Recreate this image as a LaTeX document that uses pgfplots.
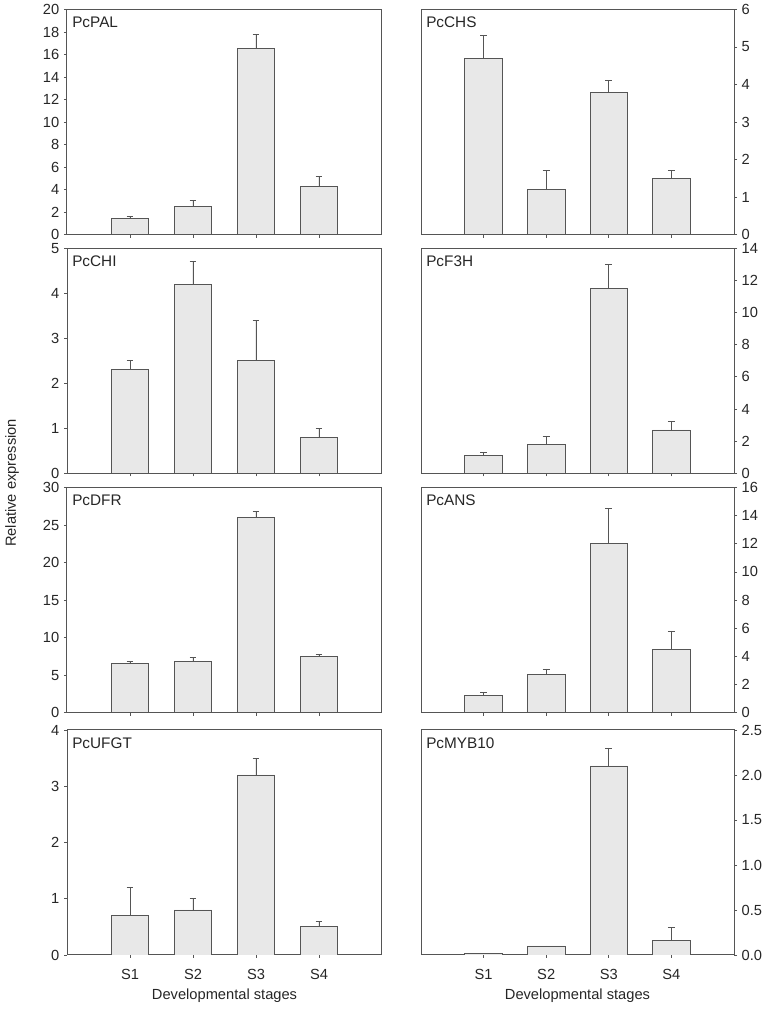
\documentclass[border=0pt]{standalone}
\usepackage{fontspec}
\setmainfont{Liberation Sans}
\usepackage{pgfplots}
\pgfplotsset{compat=1.18}
\definecolor{barfill}{HTML}{E8E8E8}
\definecolor{axgray}{HTML}{555555}
\definecolor{txt}{HTML}{262626}

\pgfplotsset{
  panel/.style={
    scale only axis, height=168.75pt, anchor=south west,
    xmin=0, xmax=5, ymin=0,
    xtick={1,2,3,4}, xticklabels={},
    xtick pos=bottom, tick align=outside, major tick length=2.25pt,
    axis line style={axgray, line width=0.75pt},
    tick style={axgray, line width=0.6pt},
    every tick label/.append style={font=\fontsize{11}{13}\selectfont, text=txt},
    /pgf/number format/assume math mode=true,
    ybar, bar width=0.6,
  },
  barstyle/.style={
      draw=axgray, fill=barfill, line width=0.6pt,
      error bars/y dir=plus, error bars/y explicit,
      error bars/error bar style={axgray, line width=0.6pt},
      error bars/error mark options={rotate=90, mark size=2.6pt, axgray, line width=0.6pt},
  },
  leftpanel/.style={panel, width=236.25pt, ytick pos=left},
  rightpanel/.style={panel, width=234.75pt, ytick pos=right, yticklabel pos=right},
  bottomrow/.style={xticklabels={S1,S2,S3,S4}, xticklabel style={yshift=-5pt}},
}
\newcommand{\ptitle}[1]{\node[anchor=north west, inner sep=0pt, font=\fontsize{11.5}{13}\selectfont, text=txt] at ([xshift=3.75pt,yshift=-5.5pt]rel axis cs:0,1) {#1};}

\begin{document}
\begin{tikzpicture}
\path[use as bounding box] (0,0) rectangle (576pt,760.5pt);

% Row 1
\begin{axis}[leftpanel, at={(50.25pt,584.6pt)}, ymax=20, ytick distance=2]
\addplot[barstyle] coordinates {(1,1.4) +- (0,0.2) (2,2.5) +- (0,0.5) (3,16.5) +- (0,1.3) (4,4.3) +- (0,0.9)};
\ptitle{PcPAL}
\end{axis}
\begin{axis}[rightpanel, at={(315.75pt,584.6pt)}, ymax=6, ytick distance=1]
\addplot[barstyle] coordinates {(1,4.7) +- (0,0.6) (2,1.2) +- (0,0.5) (3,3.8) +- (0,0.3) (4,1.5) +- (0,0.2)};
\ptitle{PcCHS}
\end{axis}

% Row 2
\begin{axis}[leftpanel, at={(50.25pt,405.5pt)}, ymax=5, ytick distance=1]
\addplot[barstyle] coordinates {(1,2.3) +- (0,0.2) (2,4.2) +- (0,0.5) (3,2.5) +- (0,0.9) (4,0.8) +- (0,0.2)};
\ptitle{PcCHI}
\end{axis}
\begin{axis}[rightpanel, at={(315.75pt,405.5pt)}, ymax=14, ytick distance=2]
\addplot[barstyle] coordinates {(1,1.1) +- (0,0.2) (2,1.8) +- (0,0.5) (3,11.5) +- (0,1.5) (4,2.7) +- (0,0.5)};
\ptitle{PcF3H}
\end{axis}

% Row 3
\begin{axis}[leftpanel, at={(50.25pt,226.1pt)}, ymax=30, ytick distance=5]
\addplot[barstyle] coordinates {(1,6.5) +- (0,0.3) (2,6.8) +- (0,0.5) (3,26.0) +- (0,0.8) (4,7.5) +- (0,0.3)};
\ptitle{PcDFR}
\end{axis}
\begin{axis}[rightpanel, at={(315.75pt,226.1pt)}, ymax=16, ytick distance=2]
\addplot[barstyle] coordinates {(1,1.2) +- (0,0.2) (2,2.7) +- (0,0.4) (3,12.0) +- (0,2.5) (4,4.5) +- (0,1.3)};
\ptitle{PcANS}
\end{axis}

% Row 4
\begin{axis}[leftpanel, bottomrow, at={(50.25pt,44.25pt)}, ymax=4, ytick distance=1]
\addplot[barstyle] coordinates {(1,0.7) +- (0,0.5) (2,0.8) +- (0,0.2) (3,3.2) +- (0,0.3) (4,0.5) +- (0,0.1)};
\ptitle{PcUFGT}
\end{axis}
\begin{axis}[rightpanel, bottomrow, at={(315.75pt,44.25pt)}, ymax=2.5, ytick distance=0.5,
  yticklabel style={/pgf/number format/.cd, fixed, fixed zerofill, precision=1}]
\addplot[barstyle] coordinates {(1,0.02) +- (0,0) (2,0.1) +- (0,0) (3,2.1) +- (0,0.2) (4,0.16) +- (0,0.15)};
\ptitle{PcMYB10}
\end{axis}

\node[font=\fontsize{11}{13}\selectfont, text=txt] at (168.4pt,13.5pt) {Developmental stages};
\node[font=\fontsize{11}{13}\selectfont, text=txt] at (433.1pt,13.5pt) {Developmental stages};
\node[font=\fontsize{11}{13}\selectfont, text=txt, rotate=90] at (9pt,398.25pt) {Relative expression};
\end{tikzpicture}
\end{document}
